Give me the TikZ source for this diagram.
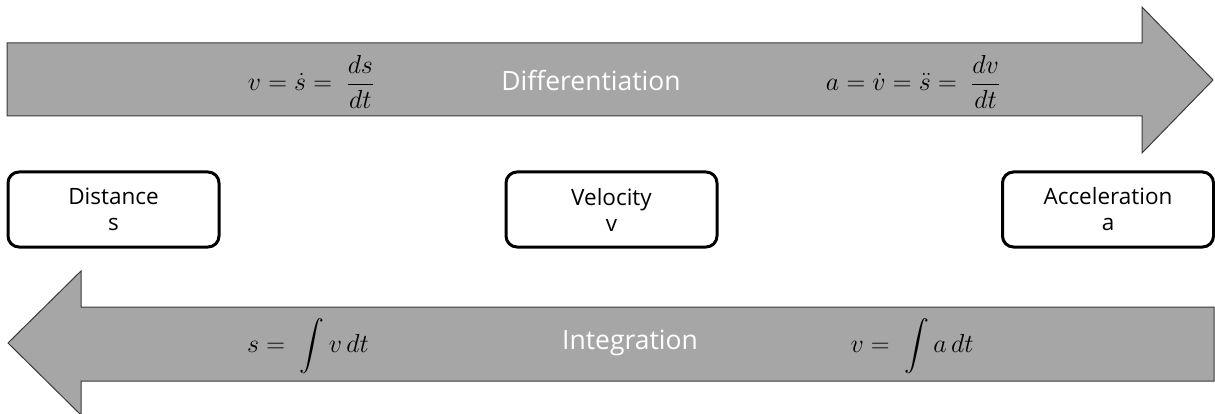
\documentclass[tikz,border=0pt]{standalone}
\usepackage{fix-cm}
\usepackage{amsmath}
\usepackage{fontspec}
\setmainfont{Open Sans}
\usetikzlibrary{positioning}
\definecolor{bandgray}{HTML}{A6A6A6}
\definecolor{banddraw}{HTML}{3A3A3A}
\tikzset{
  band/.style={fill=bandgray, draw=banddraw, line width=1pt, line join=miter},
  qbox/.style={draw=black, fill=white, line width=3pt, rounded corners=11pt,
    minimum width=211pt, minimum height=75pt, align=center,
    font=\fontsize{22.5}{26}\selectfont},
  bandlabel/.style={text=white, font=\fontsize{26.5}{30}\selectfont},
  formula/.style={text=black, font=\fontsize{26}{30}\selectfont},
}
\begin{document}
\begin{tikzpicture}[x=1pt,y=-1pt]
\useasboundingbox (0,0) rectangle (1215,414);
% top arrow (differentiation)
\draw[band] (7,43) -- (1142,43) -- (1142,7) -- (1213,80) -- (1142,153) -- (1142,116) -- (7,116) -- cycle;
% bottom arrow (integration)
\draw[band] (1214,307) -- (81,307) -- (81,271) -- (8,343) -- (81,415) -- (81,381) -- (1214,381) -- cycle;

\node[formula] (f1) at (311,82) {$v = \dot{s} = \;\dfrac{ds}{dt}$};
\node[bandlabel] (diff) at (591,80) {Differentiation};
\node[formula] (f2) at (913,82) {$a = \dot{v} = \ddot{s} = \;\dfrac{dv}{dt}$};

\node[qbox] (dist) at (113.5,209.5) {Distance\\s};
\node[qbox] (vel) at (611.5,209.5) {Velocity\\v};
\node[qbox] (acc) at (1108,209.5) {Acceleration\\a};

\node[formula] (f3) at (308,346) {$s = \;\displaystyle\int v\,dt$};
\node[bandlabel] (integ) at (630,343) {Integration};
\node[formula] (f4) at (912,346) {$v = \;\displaystyle\int a\,dt$};
\end{tikzpicture}
\end{document}
